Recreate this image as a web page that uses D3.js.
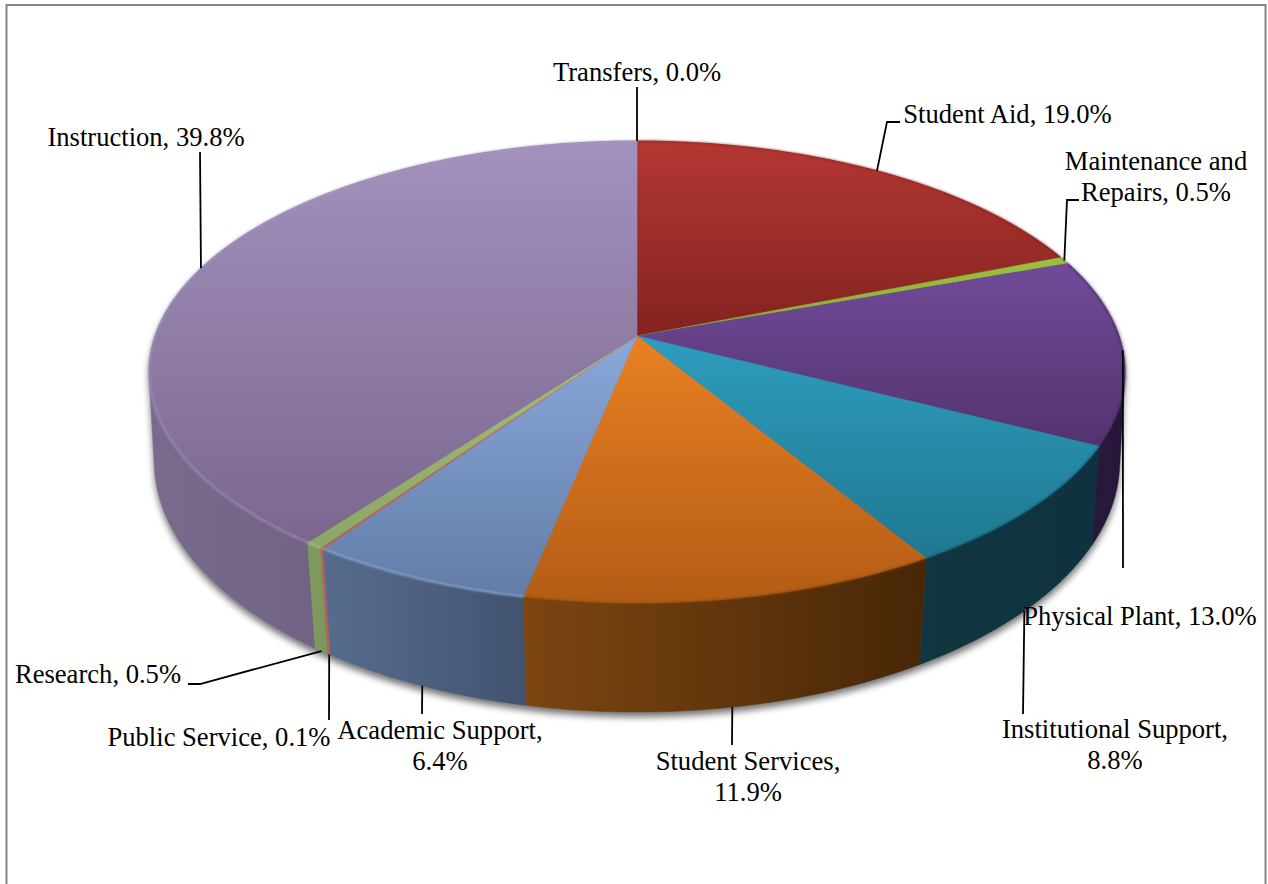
<!DOCTYPE html>
<html>
<head>
<meta charset="utf-8">
<script src="https://cdn.jsdelivr.net/npm/d3@7"></script>
<style>
    html, body { margin: 0; padding: 0; background: #fff; }
    svg { display: block; }
    text { font-family: "Liberation Serif", "Times New Roman", serif; font-size: 26.6px; fill: #000; }
</style>
</head>
<body>
<svg width="1268" height="884"></svg>
<script>
'use strict';

///////////////////////////// data ///////////////////////////
var categories = ['Student Aid', 'Maintenance and Repairs', 'Physical Plant', 'Institutional Support',
    'Student Services', 'Academic Support', 'Public Service', 'Research', 'Instruction', 'Transfers'];
var shares = [19.0, 0.5, 13.0, 8.8, 11.9, 6.4, 0.1, 0.5, 39.8, 0.0];

///////////////////////////// styles + layout ///////////////////////////
// top gradient [upper, lower], side gradient [left, right], rim highlight
var topColors = [['#b43733', '#82231f'], ['#9cc040', '#86ab33'], ['#714b99', '#52336e'], ['#2e9dbf', '#1f7890'],
    ['#e98023', '#b25c15'], ['#8aa8db', '#627ca6'], ['#c9605a', '#b9605a'], ['#a5c078', '#8ba565'], ['#a292bd', '#7b678e'], ['#c0504d', '#c0504d']];
var sideColors = [['#5a1614', '#4a1210'], ['#5a7020', '#4a5c1a'], ['#2b1b3d', '#26173a'], ['#12363f', '#0e3240'],
    ['#7c4511', '#482707'], ['#566b8c', '#42536f'], ['#b9605a', '#b9605a'], ['#7f9a5e', '#7a965c'], ['#796b8e', '#625271'], ['#8c3533', '#8c3533']];
var rimColors = ['#8a2522', '#7a9a30', '#3f2859', '#155a6e', '#8a4a10', '#9fbbe6', '#d08078', '#b5cf90', '#a99cc4', '#c0504d'];

// label placement: centre x, first baseline, lines, which rim the leader touches, elbow of the leader
var labelLines = [['Student Aid, 19.0%'], ['Maintenance and', 'Repairs, 0.5%'], ['Physical Plant, 13.0%'],
    ['Institutional Support,', '8.8%'], ['Student Services,', '11.9%'], ['Academic Support,', '6.4%'],
    ['Public Service, 0.1%'], ['Research, 0.5%'], ['Instruction, 39.8%'], ['Transfers, 0.0%']];
var labelX = [1007.5, 1156, 1140, 1115, 748, 440, 219, 98, 146, 637];
var labelY = [123, 170, 625, 738, 770, 739, 746, 683, 146, 81];
var leaderRim = ['top', 'top', 'top', 'bottom', 'bottom', 'bottom', 'bottom', 'bottom', 'top', 'top'];
var leaderPts = [[[887, 122], [900, 122]], [[1067, 200], [1079, 200]], [[1123, 568]], [[1023, 714]],
    [[732, 745]], [[422, 714]], [[329, 720]], [[200, 684], [188, 684]], [[200, 152]], [[637, 87]]];

///////////////////////////// perspective planes ///////////////////////////
var cx = 637, step = Math.PI / 180;
var topPlane = {cy: 336, rx: 482, ry: 225.4, tilt: 0.156};
var bottomPlane = {cy: 426, rx: 478, ry: 246, tilt: 0.14};

// angle is clockwise from 12 o'clock, as d3.pie gives it
function project(plane, a) {
    var w = 1 + plane.tilt * Math.cos(a);
    return [cx + plane.rx * Math.sin(a) / w, plane.cy - plane.ry * Math.cos(a) / w];
}
function arcPts(plane, a0, a1) {
    var n = Math.max(2, Math.ceil(Math.abs(a1 - a0) / step));
    return d3.range(n + 1).map(function(i) {
        return project(plane, a0 + (a1 - a0) * i / n);
    });
}

var line = d3.line();
var svg = d3.select('svg');
var defs = svg.append('defs');

var pie = d3.pie().sort(null).value(function(d) { return d; });
var arcs = pie(shares);

defs.append('filter').attr('id', 'shadow')
    .attr('x', '-5%').attr('y', '-5%').attr('width', '110%').attr('height', '110%')
    .append('feGaussianBlur').attr('stdDeviation', 3.5);
defs.append('filter').attr('id', 'rim')
    .attr('filterUnits', 'userSpaceOnUse').attr('x', 0).attr('y', 0).attr('width', 1268).attr('height', 884)
    .append('feGaussianBlur').attr('stdDeviation', 0.9);

function gradient(id, x1, y1, x2, y2, colors) {
    var g = defs.append('linearGradient').attr('id', id)
        .attr('gradientUnits', 'userSpaceOnUse')
        .attr('x1', x1).attr('y1', y1).attr('x2', x2).attr('y2', y2);
    g.append('stop').attr('offset', 0).attr('stop-color', colors[0]);
    g.append('stop').attr('offset', 1).attr('stop-color', colors[1]);
}

arcs.forEach(function(d, i) {
    var t = arcPts(topPlane, d.startAngle, d.endAngle).concat([[cx, topPlane.cy]]);
    var s = arcPts(bottomPlane, d.startAngle, d.endAngle);
    var tY = d3.extent(t, function(p) { return p[1]; });
    var sX = d3.extent(s, function(p) { return p[0]; });
    gradient('top' + i, 0, tY[0], 0, tY[1] + 1, topColors[i]);
    gradient('side' + i, sX[0], 0, sX[1] + 1, 0, sideColors[i]);
});

// page frame
svg.append('rect')
    .attr('x', 6.5).attr('y', 5).attr('width', 1259).attr('height', 900)
    .attr('fill', '#fff').attr('stroke', '#868686').attr('stroke-width', 2);

// soft shadow under the front edge
svg.append('path')
    .attr('d', line(d3.polygonHull(arcPts(bottomPlane, 0, 2 * Math.PI).concat(arcPts(topPlane, 0, 2 * Math.PI)))) + 'Z')
    .attr('transform', 'translate(0,5)')
    .attr('fill', '#000').attr('opacity', 0.55)
    .attr('filter', 'url(#shadow)');

// side walls, back ones first so the front ones land on top
// hull so the wall reaches the outline where the top edge turns away
var sides = arcs.slice().map(function(d, i) { return {d: d, i: i}; })
    .filter(function(o) { return o.d.endAngle > o.d.startAngle; })
    .sort(function(a, b) {
        return Math.cos((b.d.startAngle + b.d.endAngle) / 2) - Math.cos((a.d.startAngle + a.d.endAngle) / 2);
    });
svg.append('g').selectAll('path')
    .data(sides)
    .enter().append('path')
    .attr('d', function(o) {
        var upper = arcPts(topPlane, o.d.startAngle, o.d.endAngle);
        var lower = arcPts(bottomPlane, o.d.startAngle, o.d.endAngle);
        return line(d3.polygonHull(upper.concat(lower))) + 'Z';
    })
    .attr('fill', function(o) { return 'url(#side' + o.i + ')'; })
    .attr('stroke', function(o) { return 'url(#side' + o.i + ')'; })
    .attr('stroke-width', 0.5);

// top faces
svg.append('g').selectAll('path')
    .data(arcs.filter(function(d) { return d.endAngle > d.startAngle; }))
    .enter().append('path')
    .attr('d', function(d) {
        return line(arcPts(topPlane, d.startAngle, d.endAngle).concat([[cx, topPlane.cy]])) + 'Z';
    })
    .attr('fill', function(d) { return 'url(#top' + d.index + ')'; })
    .attr('stroke', function(d) { return 'url(#top' + d.index + ')'; })
    .attr('stroke-width', 0.5);

// bevel along the outer edge of the top faces
svg.append('g').attr('filter', 'url(#rim)').attr('opacity', 0.75).selectAll('path')
    .data(arcs.filter(function(d) { return d.endAngle > d.startAngle; }))
    .enter().append('path')
    .attr('d', function(d) { return line(arcPts(topPlane, d.startAngle, d.endAngle)); })
    .attr('fill', 'none')
    .attr('stroke', function(d) { return rimColors[d.index]; })
    .attr('stroke-width', 1.5);

// leader lines
svg.append('g').selectAll('path')
    .data(arcs)
    .enter().append('path')
    .attr('d', function(d, i) {
        var mid = (d.startAngle + d.endAngle) / 2;
        var start = project(leaderRim[i] === 'top' ? topPlane : bottomPlane, mid);
        return line([start].concat(leaderPts[i]));
    })
    .attr('fill', 'none')
    .attr('stroke', '#000')
    .attr('stroke-width', 1.8);

// labels
var labels = svg.append('g').selectAll('text')
    .data(labelLines)
    .enter().append('text')
    .attr('text-anchor', 'middle')
    .attr('y', function(d, i) { return labelY[i]; });
labels.selectAll('tspan')
    .data(function(d, i) { return d.map(function(s) { return {s: s, x: labelX[i]}; }); })
    .enter().append('tspan')
    .attr('x', function(d) { return d.x; })
    .attr('dy', function(d, j) { return j ? 30.5 : 0; })
    .text(function(d) { return d.s; });
</script>
</body>
</html>
